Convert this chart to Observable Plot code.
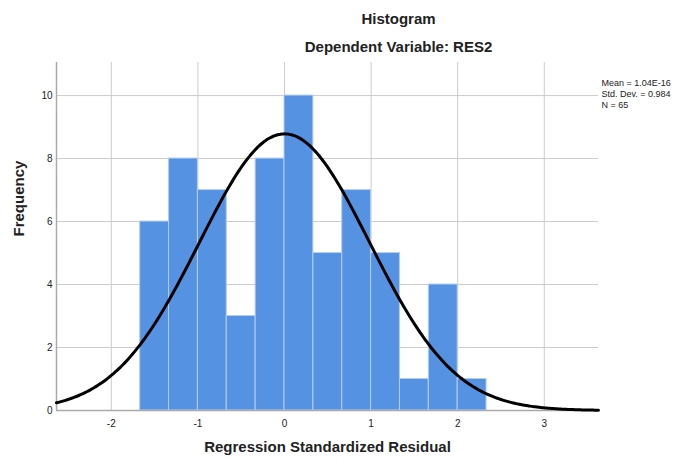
<!DOCTYPE html>
<html>
<head>
<meta charset="utf-8">
<script src="https://cdn.jsdelivr.net/npm/d3@7"></script>
<script src="https://cdn.jsdelivr.net/npm/@observablehq/plot@0.6"></script>
<style>
  html, body { margin: 0; padding: 0; background: #fff; }
</style>
</head>
<body>
<div id="chart"></div>
<script>
// Histogram bins (lower edges, upper edges) and counts
const binLower = [-5/3, -4/3, -1, -2/3, -1/3, 0, 1/3, 2/3, 1, 4/3, 5/3, 2];
const binUpper = [-4/3, -1, -2/3, -1/3, 0, 1/3, 2/3, 1, 4/3, 5/3, 2, 7/3];
const counts   = [6, 8, 7, 3, 8, 10, 5, 7, 5, 1, 4, 1];

// Reported statistics
const statLabels = ["Mean = 1.04E-16", "Std. Dev. = 0.984", "N = 65"];
const statValues = [1.04e-16, 0.984, 65];

const xTicks = [-2, -1, 0, 1, 2, 3];
const yTicks = [0, 2, 4, 6, 8, 10];

const bins = counts.map((c, i) => ({x1: binLower[i], x2: binUpper[i], y: c}));

// Fitted normal curve from the reported mean, sd, N and bin width
const [mu, sd, n] = statValues;
const bw = binUpper[0] - binLower[0];
const xDomain = [-2.633, 3.626];
const curve = d3.range(0, 301).map(i => {
  const x = xDomain[0] + (xDomain[1] - xDomain[0]) * i / 300;
  const z = (x - mu) / sd;
  return {x, y: n * bw * Math.exp(-0.5 * z * z) / (sd * Math.sqrt(2 * Math.PI))};
});

const font = "Arial, 'Liberation Sans', sans-serif";
const fmt = d => String(d);

const chart = Plot.plot({
  width: 681,
  height: 458,
  marginLeft: 56,
  marginRight: 83,
  marginTop: 62,
  marginBottom: 48,
  style: {fontFamily: font, fontSize: "10px", color: "#222", background: "#fff"},
  x: {domain: xDomain, ticks: xTicks, tickSize: 0, tickPadding: 9, tickFormat: fmt, label: null},
  y: {domain: [0, 11.05], ticks: yTicks, tickSize: 0, tickPadding: 4, tickFormat: fmt, label: null},
  marks: [
    Plot.gridX(xTicks, {stroke: "#cccccc", strokeOpacity: 1, strokeWidth: 1}),
    Plot.gridY(yTicks, {stroke: "#cccccc", strokeOpacity: 1, strokeWidth: 1}),
    Plot.rectY(bins, {x1: "x1", x2: "x2", y: "y", fill: "#5593e2", stroke: "#b3cdf0", strokeWidth: 1}),
    Plot.ruleX([xDomain[0]], {stroke: "#aaaaaa", strokeWidth: 1.5}),
    Plot.ruleY([0], {stroke: "#aaaaaa", strokeWidth: 1.5}),
    Plot.line(curve, {x: "x", y: "y", stroke: "#000", strokeWidth: 3, curve: "basis"}),
    Plot.axisX({ticks: xTicks, tickSize: 0, tickPadding: 9, tickFormat: fmt, fontSize: 10, label: null}),
    Plot.axisY({ticks: yTicks, tickSize: 0, tickPadding: 4, tickFormat: fmt, fontSize: 10, label: null}),
    Plot.text([statLabels.join("\n")], {frameAnchor: "top-right", textAnchor: "start", lineAnchor: "top", dx: 3, dy: 16, fontSize: 9, lineHeight: 1.2, fill: "#222"}),
    Plot.text(["Histogram"], {frameAnchor: "top", dx: 71, dy: -43, lineAnchor: "middle", fontSize: 15, fontWeight: "bold", fill: "#222"}),
    Plot.text(["Dependent Variable: RES2"], {frameAnchor: "top", dx: 71, dy: -15, lineAnchor: "middle", fontSize: 15, fontWeight: "bold", fill: "#222"}),
    Plot.text(["Regression Standardized Residual"], {frameAnchor: "bottom", dy: 37, lineAnchor: "middle", fontSize: 15, fontWeight: "bold", fill: "#222"}),
    Plot.text(["Frequency"], {frameAnchor: "left", dx: -37, rotate: -90, lineAnchor: "middle", fontSize: 15, fontWeight: "bold", fill: "#222"})
  ]
});
document.getElementById("chart").appendChild(chart);
</script>
</body>
</html>
